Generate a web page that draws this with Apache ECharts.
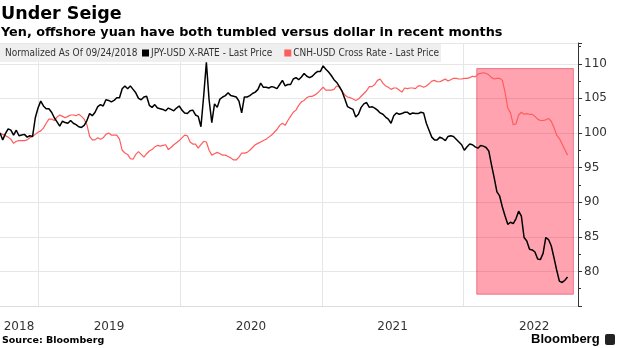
<!DOCTYPE html>
<html><head><meta charset="utf-8">
<script src="https://cdn.jsdelivr.net/npm/echarts@6/dist/echarts.min.js"></script>
<style>html,body{margin:0;padding:0;background:#fff}#c{width:620px;height:348px}</style>
</head><body><div id="c"></div>
<script>
// Weekly readings, normalized to 100 on 09/24/2018
const startDate = '2018-09-24';
const axisEndDate = '2022-10-23';
const jpyUsd = [
100,99.0,99.9,100.6,100.4,99.7,100.4,99.6,99.7,99.8,
99.4,99.6,99.5,102.2,103.6,104.6,103.9,103.5,103.5,103.0,
102.2,101.6,101.0,101.7,101.5,101.4,101.8,101.4,101.2,100.9,
100.8,101.1,101.8,102.8,102.5,103.0,103.8,104.1,103.9,104.8,
104.7,104.5,104.7,105.1,105.1,106.4,106.8,106.4,106.8,106.3,
105.8,105.0,104.8,105.2,105.3,104.0,103.7,104.1,103.6,103.5,
103.4,103.2,103.6,103.4,103.2,103.6,103.9,103.3,102.9,102.8,
103.2,103.3,102.6,102.4,100.9,105.3,110.2,104.8,101.5,104.2,
103.7,104.9,105.2,105.4,105.8,105.4,105.3,105.2,104.6,102.9,
105.2,105.2,105.4,105.7,105.9,106.3,107.2,106.6,106.6,106.5,
106.7,106.6,106.4,107.0,107.6,106.8,107.0,107.0,107.8,108.0,
107.7,108.1,108.6,108.2,108.0,108.2,108.6,108.9,108.9,109.7,
109.2,108.8,108.3,107.7,107.3,106.7,106.0,104.9,103.8,103.6,
103.4,102.3,102.7,103.7,104.2,104.4,103.7,103.8,103.6,103.3,
102.9,102.7,102.3,102.0,101.4,102.5,102.9,102.7,102.8,103.0,
103.0,102.7,102.9,102.8,102.8,103.0,102.9,101.4,100.4,99.4,
99.0,99.0,99.4,99.2,98.9,99.5,99.6,99.5,99.1,98.7,
98.3,97.5,98.0,98.4,98.3,98.0,97.8,98.2,98.1,97.9,
97.4,95.4,93.5,91.5,90.9,89.3,88.0,86.8,87.1,86.9,
87.6,88.7,88.0,84.9,84.4,83.2,83.1,82.8,81.8,81.7,
82.6,84.9,84.6,83.7,82.0,80.2,78.6,78.4,78.7,79.2
];
const cnhUsd = [
100,99.8,99.6,99.4,99.1,98.5,98.8,98.9,98.9,98.9,
99.0,99.3,99.5,99.8,100.1,100.3,100.7,101.4,102.0,102.0,
101.8,102.3,102.6,102.4,102.2,102.4,102.6,102.6,102.5,102.7,
102.4,102.0,101.2,99.5,99.0,99.0,99.3,99.1,99.3,99.8,
100.0,99.7,99.7,99.7,99.1,97.5,97.1,96.9,96.3,96.2,
96.9,97.3,96.9,96.5,97.0,97.4,97.6,98.0,98.2,98.1,
98.2,98.3,97.6,97.9,98.3,98.6,98.9,99.3,99.7,99.6,
98.7,98.4,98.4,97.8,98.3,98.8,98.7,97.5,96.8,97.0,
97.2,97.0,96.8,96.8,96.6,96.4,96.1,96.1,96.5,97.1,
97.1,97.2,97.5,97.9,98.3,98.5,98.7,98.9,99.1,99.4,
99.7,100.1,100.5,101.1,101.4,101.1,101.8,102.4,103.0,103.3,
104.0,104.5,104.7,105.1,105.3,105.3,105.5,105.8,106.2,106.6,
106.2,106.2,106.2,106.3,106.8,106.6,106.0,105.5,105.2,105.1,
104.9,104.7,104.9,105.3,105.7,106.1,106.7,106.7,107.0,107.6,
107.8,107.2,106.8,106.6,106.3,106.5,106.5,106.2,105.9,106.5,
106.4,106.5,106.5,106.4,106.8,106.8,106.6,106.8,107.1,107.5,
107.6,107.4,107.4,107.6,107.8,107.5,107.7,107.9,107.9,107.8,
107.8,107.9,107.9,108.0,108.2,108.1,108.5,108.6,108.7,108.6,
108.4,108.0,107.8,107.9,107.9,107.6,105.9,103.6,102.9,101.2,
101.3,102.6,103.0,102.7,102.8,102.7,102.7,102.4,102.0,101.8,
101.8,101.9,102.1,101.7,100.8,99.7,99.2,98.4,97.6,96.8
];
const seriesNames = ['JPY-USD X-RATE - Last Price', 'CNH-USD Cross Rate - Last Price'];
const yearBoundaries = ['2019-01-01','2020-01-01','2021-01-01','2022-01-01'];
const yearLabelDates = ['2018-11-12','2019-07-02','2020-07-02','2021-07-02','2022-07-02'];
const highlightDates = ['2022-02-04','2022-10-11'];
const highlightValues = [76.7, 109.3];

function parseDate(s, addDays) {
  const p = s.split('-').map(Number);
  return new Date(p[0], p[1] - 1, p[2] + (addDays || 0)).getTime();
}
const weekDates = jpyUsd.map((_, i) => parseDate(startDate, 7 * i));
const jpyData = jpyUsd.map((v, i) => [weekDates[i], v]);
const cnhData = cnhUsd.map((v, i) => [weekDates[i], v]);

const chart = echarts.init(document.getElementById('c'), null, {renderer: 'canvas'});
const xMin = parseDate(startDate), xMax = parseDate(axisEndDate);
const FONT = 'Liberation Sans';
const NARROW = '"Liberation Sans Narrow", "DejaVu Sans Condensed", sans-serif';

chart.setOption({
  animation: false,
  textStyle: {fontFamily: FONT},
  title: [
    {text: 'Under Seige', left: 1, top: 5, padding: 0, textStyle: {fontSize: 17.5, fontWeight: 'bold', color: '#000', fontFamily: 'DejaVu Sans'}},
    {text: 'Yen, offshore yuan have both tumbled versus dollar in recent months', left: 1, top: 26, padding: 0,
     textStyle: {fontSize: 12.8, fontWeight: 'bold', color: '#000', fontFamily: 'DejaVu Sans'}},
    {text: 'Source: Bloomberg', left: 2, top: 336, padding: 0, textStyle: {fontSize: 9.5, fontWeight: 'bold', color: '#000', fontFamily: 'DejaVu Sans'}},
    {text: 'Bloomberg', left: 531, top: 333, padding: 0, textStyle: {fontSize: 13, fontWeight: 'bold', color: '#000', fontFamily: FONT}}
  ],
  graphic: [
    {type: 'rect', z: 1, shape: {x: 0, y: 44, width: 441, height: 18}, style: {fill: '#efefef'}},
    {type: 'text', z: 5, left: 5, top: 48, style: {text: 'Normalized As Of 09/24/2018', font: '10px ' + NARROW, fill: '#333'}},
    {type: 'rect', z: 5, shape: {x: 605, y: 334, width: 10, height: 11, r: 2}, style: {fill: '#222'}}
  ],
  legend: {
    left: 142, top: 48, padding: 0, itemWidth: 7, itemHeight: 7, icon: 'rect', itemGap: 12,
    textStyle: {fontSize: 10, color: '#333', fontFamily: NARROW, padding: [0, 0, 0, -3]},
    data: seriesNames
  },
  grid: {left: 0, right: 42, top: 43, bottom: 42, containLabel: false, outerBoundsMode: 'none'},
  xAxis: [
    {type: 'value', min: xMin, max: xMax,
     axisLine: {show: true, lineStyle: {color: '#dcdcdc'}},
     axisTick: {show: false, customValues: yearBoundaries.map(d => parseDate(d))},
     axisLabel: {show: false, customValues: yearBoundaries.map(d => parseDate(d))},
     splitLine: {show: true, lineStyle: {color: '#e6e6e6', width: 1}}},
    {type: 'value', min: xMin, max: xMax, position: 'bottom',
     axisLine: {show: false}, axisTick: {show: false}, splitLine: {show: false},
     axisLabel: {show: true, customValues: yearLabelDates.map(d => parseDate(d)),
       formatter: v => String(new Date(v).getFullYear()), fontSize: 12, color: '#333', margin: 15, fontFamily: 'DejaVu Sans'}}
  ],
  yAxis: {
    type: 'value', position: 'right', min: 75, max: 113, interval: 5,
    axisLine: {show: true, lineStyle: {color: '#333'}},
    axisTick: {show: true, length: 4, lineStyle: {color: '#333'}},
    minorTick: {show: true, splitNumber: 2, length: 3, lineStyle: {color: '#333'}},
    axisLabel: {formatter: v => (v >= 80 && v <= 110 && v % 5 === 0 ? String(v) : ''), margin: 6, fontSize: 12, color: '#333', fontFamily: 'DejaVu Sans'},
    splitLine: {show: true, lineStyle: {color: '#e6e6e6'}},
    name: 'Percent', nameLocation: 'middle', nameRotate: -90, nameGap: 27,
    nameTextStyle: {fontSize: 13, color: '#333', fontFamily: 'DejaVu Sans'}
  },
  series: [
    {name: seriesNames[1], type: 'line', data: cnhData, showSymbol: false, color: '#ff5c5c',
     lineStyle: {width: 1.2, color: '#ff5c5c'}, z: 2},
    {name: seriesNames[0], type: 'line', data: jpyData, showSymbol: false, color: '#000',
     lineStyle: {width: 1.5, color: '#000'}, z: 3},
    {name: 'highlight', type: 'line', data: [], z: 4, silent: true,
     markArea: {silent: true,
       itemStyle: {color: 'rgba(255,0,40,0.36)', borderColor: 'rgba(220,0,40,0.45)', borderWidth: 1},
       data: [[{coord: [parseDate(highlightDates[0]), highlightValues[0]]}, {coord: [parseDate(highlightDates[1]), highlightValues[1]]}]]}}
  ]
});
</script></body></html>
